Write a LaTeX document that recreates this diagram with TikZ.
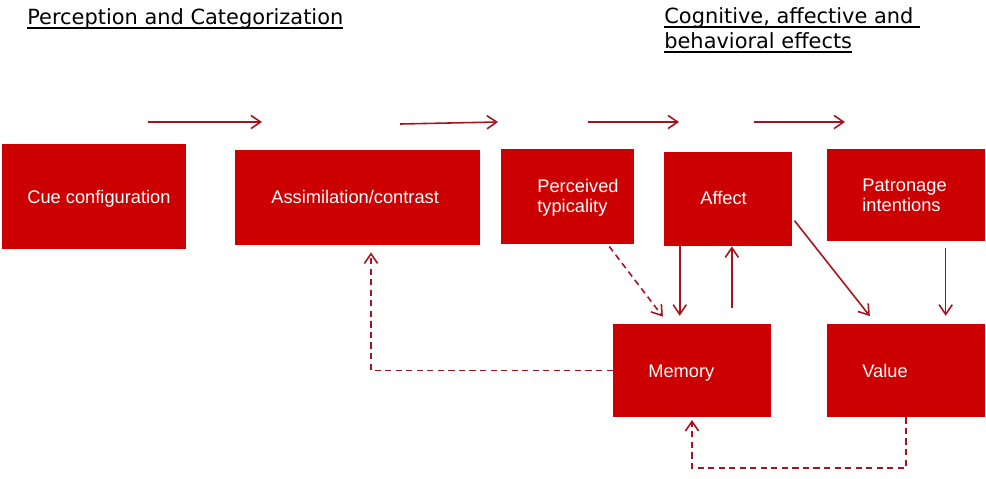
\documentclass[tikz,border=0pt]{standalone}
\usepackage{fontspec}
\setmainfont{Liberation Sans}
\newfontfamily\titlefont{DejaVu Sans}
\usetikzlibrary{arrows.meta,calc,fit}
\definecolor{boxred}{RGB}{204,0,0}
\definecolor{linered}{RGB}{165,20,30}
\newsavebox\ulbox
\newcommand{\ultext}[1]{\sbox\ulbox{#1}\rlap{\rule[-2.6pt]{\wd\ulbox}{0.7pt}}\usebox\ulbox}
\tikzset{
  redbox/.style={fill=boxred, inner sep=0},
  boxtext/.style={text=white, font=\fontsize{10.4}{11.2}\selectfont, align=left, anchor=west, inner sep=0},
  heading/.style={font=\titlefont\fontsize{11.9}{14}\selectfont, anchor=base west, inner sep=0},
  arr/.style={draw=linered, line width=0.9pt, -{Straight Barb[length=5.5pt,width=7.5pt]}},
  dashline/.style={dash pattern=on 3.5pt off 2.5pt}
}
\begin{document}
\begin{tikzpicture}[x=0.02cm, y=-0.02cm]
\useasboundingbox (0,0) rectangle (986,478);

% headings
\node[heading] (perc) at (27,24) {\ultext{Perception and Categorization}};
\node[heading] (cog) at (664,23) {\ultext{Cognitive, affective and\ }};
\node[heading] (cogb) at (664,48) {\ultext{behavioral effects}};

% boxes
\node[redbox, fit={(2,144) (186,249)}] (cue) {};
\node[redbox, fit={(235,150) (480,245)}] (assim) {};
\node[redbox, fit={(501,149) (634,244)}] (typ) {};
\node[redbox, fit={(664,152) (792,246)}] (affect) {};
\node[redbox, fit={(827,149) (985,241)}] (patron) {};
\node[redbox, fit={(613,324) (771,417)}] (mem) {};
\node[redbox, fit={(827,324) (985,417)}] (value) {};

\node[boxtext] (cuetxt) at (27,199) {Cue configuration};
\node[boxtext] (assimtxt) at (271,197) {Assimilation/contrast};
\node[boxtext] (typtxt) at (537,198) {Perceived\\typicality};
\node[boxtext] (affecttxt) at (700,198) {Affect};
\node[boxtext] (patrontxt) at (862,195) {Patronage\\intentions};
\node[boxtext] (memtxt) at (648,373) {Memory};
\node[boxtext] (valuetxt) at (862,371) {Value};

% flow along the top
\coordinate (f1a) at (148,122); \coordinate (f1b) at (262,122);
\coordinate (f2a) at (400,124); \coordinate (f2b) at (498,122);
\coordinate (f3a) at (588,122); \coordinate (f3b) at (679,122);
\coordinate (f4a) at (754,122); \coordinate (f4b) at (845,122);
\draw[arr] (f1a) -- (f1b);
\draw[arr] (f2a) -- (f2b);
\draw[arr] (f3a) -- (f3b);
\draw[arr] (f4a) -- (f4b);

% links between boxes
\coordinate (typout) at ($(typ.south west)!0.8!(typ.south east)$);
\coordinate (memin) at ($(mem.north west)!0.35!(mem.north east)$);
\draw[arr, dashline, shorten <=1.5pt, shorten >=5pt] (typout) -- (memin);

\coordinate (affdown) at ($(affect.south west)!0.125!(affect.south east)$);
\draw[arr, shorten >=4.5pt] (affdown) -- (affdown |- mem.north);
\coordinate (affup) at ($(affect.south west)!0.53!(affect.south east)$);
\draw[arr, shorten <=9pt] (affup |- mem.north) -- (affup);

\coordinate (affside) at ($(affect.south east)!0.3!(affect.north east)$);
\coordinate (valin) at ($(value.north west)!0.31!(value.north east)$);
\draw[arr, shorten <=2pt, shorten >=5.5pt] (affside) -- (valin);

\coordinate (patout) at ($(patron.south west)!0.75!(patron.south east)$);
\draw[arr, shorten <=3.5pt, shorten >=4.5pt] (patout) -- (patout |- value.north);

% feedback
\coordinate (assimin) at ($(assim.south west)!0.555!(assim.south east)$);
\draw[arr, dashline, shorten >=4pt] (mem.west) -| (assimin);
\coordinate (loop) at (0,468);
\draw[arr, dashline, shorten >=1.5pt] (value.south) -- (value.south |- loop) -| (mem.south);
\end{tikzpicture}
\end{document}
